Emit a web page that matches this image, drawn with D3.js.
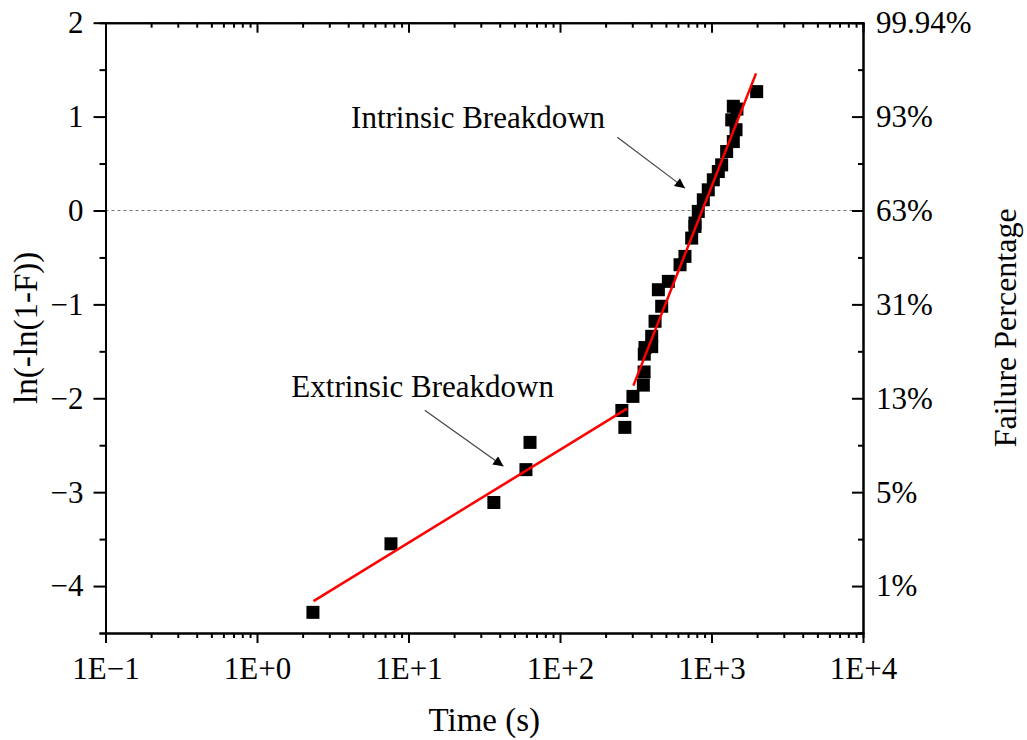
<!DOCTYPE html>
<html>
<head>
<meta charset="utf-8">
<script src="https://cdn.jsdelivr.net/npm/d3@7"></script>
<style>
  body { margin: 0; background: #fff; }
  svg text { font-family: "Liberation Serif", "Times New Roman", serif; fill: #000; }
</style>
</head>
<body>
<div class="chart"></div>
<script>
// failure times (s) and Weibull plotting positions ln(-ln(1-F))
var times = [2.34, 7.66, 36.6, 59.6, 63.4, 268, 256, 303, 355, 359, 360, 364, 403, 403,
             424, 469, 446, 519, 620, 668, 740, 778, 778, 818, 883, 952, 1028, 1109,
             1167, 1259, 1393, 1452, 1360, 1393, 1472, 1987];
var lnVals = [-4.28, -3.55, -3.11, -2.76, -2.47, -2.31, -2.13, -1.98, -1.86, -1.72, -1.53, -1.46, -1.34, -1.45,
              -1.18, -1.02, -0.844, -0.755, -0.578, -0.489, -0.294, -0.17, -0.134, -0.01, 0.114, 0.22, 0.327, 0.415,
              0.486, 0.628, 0.734, 0.86, 0.965, 1.11, 1.08, 1.266];

// fitted lines (two regimes)
var extrinsicFit = [[2.36, -4.16], [277, -2.11]];
var intrinsicFit = [[305, -1.865], [1968, 1.46]];

var xTickVals = [0.1, 1, 10, 100, 1000, 10000];
var xTickLabels = ["1E\u22121", "1E+0", "1E+1", "1E+2", "1E+3", "1E+4"];
var yTickVals = [-4, -3, -2, -1, 0, 1, 2];
var pctLabels = ["1%", "5%", "13%", "31%", "63%", "93%", "99.94%"];

// annotations: text anchor + arrow from/to, in data units
var notes = [
    { text: "Intrinsic Breakdown", tx: 28.8, ty: 0.877, from: [239, 0.781], to: [668, 0.238] },
    { text: "Extrinsic Breakdown", tx: 12.4, ty: -1.99, from: [12.8, -2.128], to: [42.3, -2.723] }
];

var serif = "'Liberation Serif', 'Times New Roman', serif";
var svgWidth = 1027, svgHeight = 740;
var margin = { top: 22.7, right: 164, bottom: 107, left: 105.5 };
var width = svgWidth - margin.left - margin.right,
    height = svgHeight - margin.top - margin.bottom;

var svg = d3.select(".chart").append("svg")
    .attr("width", svgWidth)
    .attr("height", svgHeight)
    .attr("font-family", serif);

var defs = svg.append("defs");
defs.append("marker")
    .attr("id", "arrow")
    .attr("viewBox", "0 0 10 10")
    .attr("refX", 10).attr("refY", 5)
    .attr("markerWidth", 13).attr("markerHeight", 10)
    .attr("markerUnits", "userSpaceOnUse")
    .attr("orient", "auto")
  .append("path")
    .attr("d", "M0,0L10,5L0,10Z")
    .attr("fill", "#000");

var g = svg.append("g")
    .attr("transform", "translate(" + margin.left + "," + margin.top + ")");

var x = d3.scaleLog().domain([0.1, 10000]).range([0, width]);
var y = d3.scaleLinear().domain([-4.5, 2]).range([height, 0]);

// dotted reference at 63%
g.append("line")
    .attr("x1", 0).attr("x2", width)
    .attr("y1", y(0)).attr("y2", y(0))
    .attr("stroke", "#777")
    .attr("stroke-width", 1)
    .attr("stroke-dasharray", "3,3");

function styleAxis(sel) {
    sel.attr("font-family", serif).attr("font-size", 31);
    sel.select(".domain").attr("stroke", "#000").attr("stroke-width", 2);
    sel.selectAll(".tick line").attr("stroke", "#000").attr("stroke-width", 2);
    sel.selectAll("text").attr("font-family", serif).style("font-size", "31px");
}

// minor ticks
var xMinor = x.ticks().filter(function(d) { return xTickVals.indexOf(d) < 0; });
var yMinor = d3.range(-4.5, 2.01, 0.5).filter(function(d) { return d % 1 !== 0; });

g.append("g").attr("transform", "translate(0," + height + ")")
    .call(d3.axisBottom(x).tickValues(xMinor).tickSize(5).tickFormat(""))
    .call(styleAxis);
g.append("g")
    .call(d3.axisTop(x).tickValues(xMinor).tickSize(-5).tickFormat(""))
    .call(styleAxis);
g.append("g")
    .call(d3.axisLeft(y).tickValues(yMinor).tickSize(6).tickFormat(""))
    .call(styleAxis);
g.append("g").attr("transform", "translate(" + width + ",0)")
    .call(d3.axisRight(y).tickValues(yMinor).tickSize(-5).tickFormat(""))
    .call(styleAxis);

// major ticks
var xAxis = g.append("g").attr("transform", "translate(0," + height + ")")
    .call(d3.axisBottom(x).tickValues(xTickVals).tickSize(10).tickSizeOuter(0)
        .tickFormat(function(d, i) { return xTickLabels[i]; }))
    .call(styleAxis);
xAxis.selectAll("text").attr("y", 46).attr("dy", null);

g.append("g")
    .call(d3.axisTop(x).tickValues(xTickVals).tickSize(-10).tickSizeOuter(0).tickFormat(""))
    .call(styleAxis);

g.append("g")
    .call(d3.axisLeft(y).tickValues(yTickVals).tickSize(12).tickSizeOuter(0).tickPadding(10)
        .tickFormat(d3.format("d")))
    .call(styleAxis);

g.append("g").attr("transform", "translate(" + width + ",0)")
    .call(d3.axisRight(y).tickValues(yTickVals).tickSize(-11).tickSizeOuter(0).tickPadding(13)
        .tickFormat(function(d, i) { return pctLabels[i]; }))
    .call(styleAxis);

// data squares
var pts = times.map(function(t, i) { return { t: t, v: lnVals[i] }; });
var s = 13;
g.selectAll("rect.pt")
    .data(pts)
  .enter().append("rect")
    .attr("class", "pt")
    .attr("x", function(d) { return x(d.t) - s / 2; })
    .attr("y", function(d) { return y(d.v) - s / 2; })
    .attr("width", s).attr("height", s)
    .attr("fill", "#000");

// fit lines, drawn over the squares
var line = d3.line()
    .x(function(d) { return x(d[0]); })
    .y(function(d) { return y(d[1]); });

g.selectAll("path.fit")
    .data([extrinsicFit, intrinsicFit])
  .enter().append("path")
    .attr("class", "fit")
    .attr("d", line)
    .attr("fill", "none")
    .attr("stroke", "#ff0000")
    .attr("stroke-width", 2.5);

// annotations
notes.forEach(function(n) {
    g.append("text")
        .attr("x", x(n.tx))
        .attr("y", y(n.ty))
        .attr("text-anchor", "middle")
        .attr("font-family", serif)
        .style("font-size", "31px")
        .text(n.text);
    g.append("line")
        .attr("x1", x(n.from[0])).attr("y1", y(n.from[1]))
        .attr("x2", x(n.to[0])).attr("y2", y(n.to[1]))
        .attr("stroke", "#444")
        .attr("stroke-width", 1.2)
        .attr("marker-end", "url(#arrow)");
});

// axis titles
svg.append("text")
    .attr("x", margin.left + width / 2)
    .attr("y", 731)
    .attr("text-anchor", "middle")
    .attr("font-family", serif)
    .style("font-size", "33px")
    .text("Time (s)");

svg.append("text")
    .attr("transform", "translate(37," + (margin.top + height / 2) + ") rotate(-90)")
    .attr("text-anchor", "middle")
    .attr("font-family", serif)
    .style("font-size", "33px")
    .text("ln(-ln(1-F))");

svg.append("text")
    .attr("transform", "translate(1016," + (margin.top + height / 2) + ") rotate(-90)")
    .attr("text-anchor", "middle")
    .attr("font-family", serif)
    .style("font-size", "32px")
    .text("Failure Percentage");
</script>
</body>
</html>
